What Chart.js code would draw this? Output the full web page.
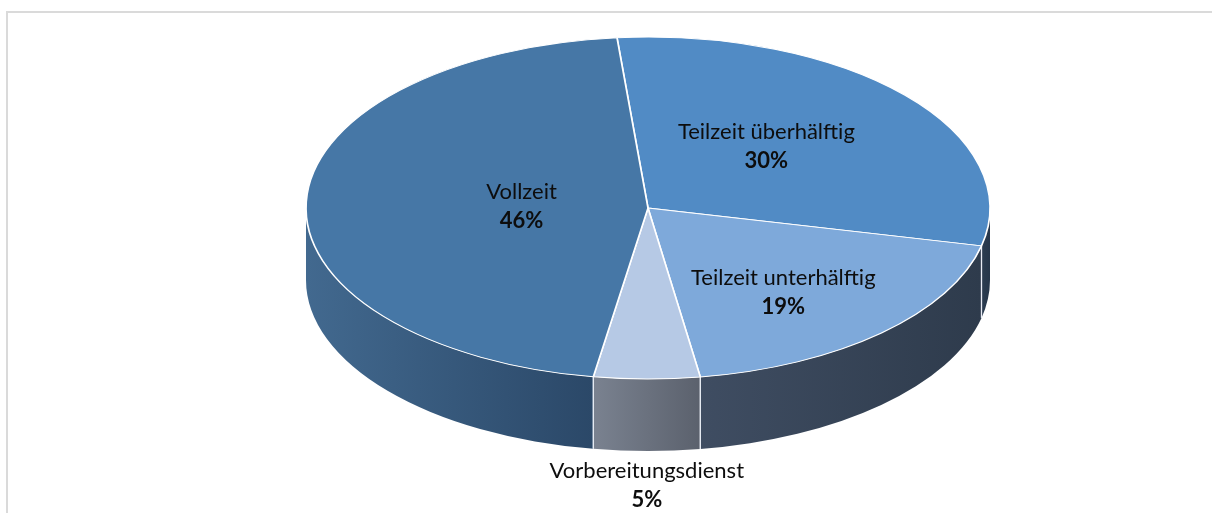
<!DOCTYPE html>
<html>
<head>
<meta charset="utf-8">
<script src="https://cdn.jsdelivr.net/npm/chart.js@4.4.1/dist/chart.umd.min.js"></script>
<style>
  html, body { margin: 0; padding: 0; background: #fff; overflow: hidden; }
  #rahmen { position: absolute; left: 6px; top: 11px; width: 1400px; height: 700px; border: 2px solid #dadada; }
  #box { position: absolute; left: 0; top: 0; width: 1212px; height: 513px; }
</style>
</head>
<body>
<div id="rahmen"></div>
<div id="box"><canvas id="graficoTorte"></canvas></div>
<script>
const kategorien = ["Teilzeit überhälftig", "Teilzeit unterhälftig", "Vorbereitungsdienst", "Vollzeit"];
const anteile = [30, 19, 5, 46];
const farbenOben = ["#518bc5", "#7ea9da", "#b6c9e5", "#4677a6"];
const farbenSeite = [["#2c3d51", "#26364a"], ["#3f4d62", "#2e3b4c"], ["#7a8290", "#5b616d"], ["#42698f", "#2b4868"]];

// 3D-Effekt: Seitenwand + gestauchte Deckfläche
const pie3d = {
    id: "pie3d",
    geo(chart) {
        const ca = chart.chartArea;
        const o = chart.options.plugins.pie3d;
        const rx = ca.width / 2;
        const ry = rx * o.neigung;
        return { cx: (ca.left + ca.right) / 2, cy: ca.top + ry, rx, ry, tiefe: o.tiefe };
    },
    beforeDatasetsDraw(chart) {
        const ctx = chart.ctx;
        const o = chart.options.plugins.pie3d;
        const g = this.geo(chart);
        const arcs = chart.getDatasetMeta(0).data;
        const kanten = [];

        arcs.forEach((el, i) => {
            for (const k of [-2 * Math.PI, 0, 2 * Math.PI]) {
                const lo = Math.max(el.startAngle, k);
                const hi = Math.min(el.endAngle, k + Math.PI);
                if (hi <= lo) continue;
                const x0 = g.cx + g.rx * Math.cos(lo);
                const x1 = g.cx + g.rx * Math.cos(hi);
                const grad = ctx.createLinearGradient(Math.min(x0, x1), 0, Math.max(x0, x1), 0);
                grad.addColorStop(0, o.seiten[i][0]);
                grad.addColorStop(1, o.seiten[i][1]);
                ctx.beginPath();
                ctx.ellipse(g.cx, g.cy, g.rx, g.ry, 0, lo, hi);
                ctx.ellipse(g.cx, g.cy + g.tiefe, g.rx, g.ry, 0, hi, lo, true);
                ctx.closePath();
                ctx.fillStyle = grad;
                ctx.fill();
                if (lo > k) kanten.push(lo);
                if (hi < k + Math.PI) kanten.push(hi);
            }
        });

        ctx.save();
        ctx.strokeStyle = "rgba(235,240,248,0.85)";
        ctx.lineWidth = 1.2;
        kanten.forEach(a => {
            const x = g.cx + g.rx * Math.cos(a);
            const y = g.cy + g.ry * Math.sin(a);
            ctx.beginPath();
            ctx.moveTo(x, y);
            ctx.lineTo(x, y + g.tiefe);
            ctx.stroke();
        });
        ctx.restore();

        const el = arcs[0];
        ctx.save();
        ctx.translate(g.cx, g.cy);
        ctx.scale(g.rx / el.outerRadius, g.ry / el.outerRadius);
        ctx.translate(-el.x, -el.y);
    },
    afterDatasetsDraw(chart) {
        const ctx = chart.ctx;
        ctx.restore();
        const o = chart.options.plugins.pie3d;
        const g = this.geo(chart);
        const arcs = chart.getDatasetMeta(0).data;

        ctx.save();
        ctx.textAlign = "center";
        ctx.textBaseline = "middle";
        ctx.fillStyle = "#0d0d0d";
        arcs.forEach((el, i) => {
            const mid = (el.startAngle + el.endAngle) / 2;
            const f = o.labelRadius[i];
            let x, y;
            if (f) {
                x = g.cx + g.rx * f[0] * Math.cos(mid);
                y = g.cy + g.ry * f[1] * Math.sin(mid);
            } else {
                x = g.cx + g.rx * (Math.cos(el.startAngle) + Math.cos(el.endAngle)) / 2;
                y = g.cy + g.ry * Math.sin(mid) + g.tiefe + o.aussenAbstand;
            }
            ctx.font = "22px Lato";
            ctx.fillText(kategorien[i], x, y - 14);
            ctx.font = "bold 22px Lato";
            ctx.fillText(anteile[i] + "%", x, y + 15);
        });
        ctx.restore();
    }
};

new Chart(document.getElementById("graficoTorte"), {
    type: "pie",
    data: {
        labels: kategorien,
        datasets: [{
            data: anteile,
            backgroundColor: farbenOben,
            borderColor: "#ffffff",
            borderWidth: 1.2
        }]
    },
    options: {
        responsive: true,
        maintainAspectRatio: false,
        animation: false,
        rotation: -5.2,
        layout: { padding: { left: 306, right: 222, top: 37, bottom: 0 } },
        plugins: {
            legend: { display: false },
            tooltip: { enabled: false },
            pie3d: {
                neigung: 0.5,
                tiefe: 72,
                seiten: farbenSeite,
                labelRadius: [[0.46, 0.55], [0.58, 0.67], null, [0.37, 0.37]],
                aussenAbstand: 34
            }
        }
    },
    plugins: [pie3d]
});
</script>
</body>
</html>
